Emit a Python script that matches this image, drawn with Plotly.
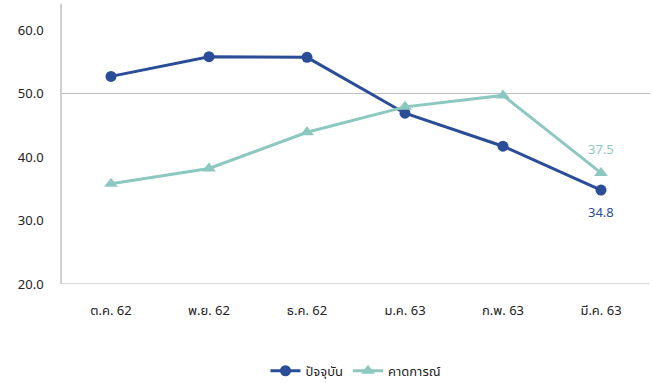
import plotly.graph_objects as go

months = ['ต.ค. 62', 'พ.ย. 62', 'ธ.ค. 62', 'ม.ค. 63', 'ก.พ. 63', 'มี.ค. 63']
current = [52.7, 55.8, 55.7, 46.9, 41.7, 34.8]
expected = [35.8, 38.2, 43.9, 47.9, 49.7, 37.5]
y_ticks = [20, 30, 40, 50, 60]

BLUE = '#2B4D98'
TEAL = '#8CC8C0'
FONT = 'Tahoma, Noto Sans Thai, Noto Sans, sans-serif'

fig = go.Figure()
fig.add_trace(go.Scatter(
    x=months, y=current, name='ปัจจุบัน', mode='lines+markers',
    line=dict(color=BLUE, width=3), marker=dict(symbol='circle', size=11, color=BLUE)
))
fig.add_trace(go.Scatter(
    x=months, y=expected, name='คาดการณ์', mode='lines+markers',
    line=dict(color=TEAL, width=3), marker=dict(symbol='triangle-up', size=12, color=TEAL)
))

# data labels for last points
fig.add_annotation(x=months[-1], y=expected[-1], text=f'{expected[-1]:.1f}', showarrow=False,
                   yshift=23, font=dict(color=TEAL, size=13, family=FONT))
fig.add_annotation(x=months[-1], y=current[-1], text=f'{current[-1]:.1f}', showarrow=False,
                   yshift=-23, font=dict(color=BLUE, size=13, family=FONT))

# reference line at 50 and bottom axis line
fig.add_shape(type='line', xref='paper', x0=0, x1=1, yref='y', y0=50, y1=50,
              line=dict(color='#BFBFBF', width=1), layer='below')
fig.add_shape(type='line', xref='paper', x0=0, x1=1, yref='y', y0=20, y1=20,
              line=dict(color='#D0D0D0', width=1.5), layer='below')

fig.update_layout(
    width=653, height=383,
    margin=dict(l=62, r=3, t=4, b=99, autoexpand=False),
    plot_bgcolor='white', paper_bgcolor='white',
    font=dict(family=FONT, size=13, color='#333333'),
    showlegend=True,
    legend=dict(orientation='h', x=0.5, xanchor='center', y=-0.31, yanchor='middle',
                font=dict(size=13, color='#222222'), itemwidth=30),
    xaxis=dict(range=[-0.5, 5.5], showgrid=False, showline=False, zeroline=False,
               automargin=False, ticks='outside', ticklen=14, tickcolor='white',
               tickfont=dict(size=13, color='#222222')),
    yaxis=dict(range=[20, 64.1], tickvals=y_ticks, tickformat='.1f', showgrid=False,
               showline=True, linecolor='#D0D0D0', linewidth=1.5, zeroline=False,
               automargin=False, ticks='outside', ticklen=14, tickcolor='white',
               tickfont=dict(size=13, color='#222222')),
)

fig.write_html("out.html", config={'displayModeBar': False},
               post_script="document.body.style.margin='0';")
